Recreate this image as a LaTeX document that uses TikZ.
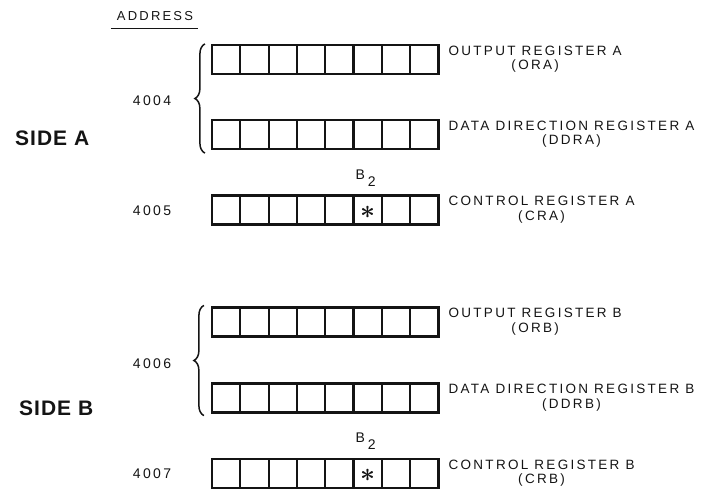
\documentclass[tikz,border=0pt]{standalone}
\usepackage{fontspec}
\setmainfont{Liberation Sans}
\newfontfamily\lettering[LetterSpace=17]{Liberation Sans}
\newfontfamily\heading[LetterSpace=5]{Liberation Sans}
\usetikzlibrary{positioning,decorations.pathreplacing}
\definecolor{ink}{RGB}{20,20,20}
\tikzset{
  every picture/.style={color=ink, line width=2.2pt},
  cell/.style={draw=ink, minimum width=28.3pt, minimum height=29pt, inner sep=0pt},
  reglbl/.style={font=\lettering\fontsize{13.5}{14.5}\selectfont, align=center, inner sep=0pt, anchor=north west},
  addr/.style={font=\lettering\fontsize{14}{14}\selectfont, inner sep=0pt},
  side/.style={font=\heading\fontsize{21}{21}\selectfont\bfseries, anchor=west, inner sep=0pt},
  grp/.style={decorate, decoration={brace, amplitude=10pt}, line width=1.5pt},
  bit/.style={font=\lettering\fontsize{14}{14}\selectfont, inner sep=0pt},
}

\begin{document}
\begin{tikzpicture}[x=1pt, y=-1pt]
  \useasboundingbox (0,0) rectangle (707,491);
  % heading of the address column
  \node[addr, font=\lettering\fontsize{13}{13}\selectfont] (head) at (155,16) {ADDRESS};
  \draw[line width=1.3pt] ([shift={(-5pt,-7pt)}]head.south west) -- ([shift={(4pt,-7pt)}]head.south east);
  % the six 8-bit registers, bit 7 on the left
  \foreach \r/\y in {ora/59.5, ddra/134.5, cra/210, orb/322, ddrb/398, crb/473.5} {
    \foreach \c in {1,...,8} { \node[cell] (\r\c) at ({212+(\c-0.5)*28.3},\y) {}; }
  }
  \node[reglbl] (oralbl) at ([shift={(8pt,-1pt)}]ora8.north east) {OUTPUT REGISTER A\\(ORA)};
  \node[reglbl] (ddralbl) at ([shift={(8pt,-1pt)}]ddra8.north east) {DATA DIRECTION REGISTER A\\(DDRA)};
  \node[reglbl] (cralbl) at ([shift={(8pt,-1pt)}]cra8.north east) {CONTROL REGISTER A\\(CRA)};
  \node[reglbl] (orblbl) at ([shift={(8pt,-1pt)}]orb8.north east) {OUTPUT REGISTER B\\(ORB)};
  \node[reglbl] (ddrblbl) at ([shift={(8pt,-1pt)}]ddrb8.north east) {DATA DIRECTION REGISTER B\\(DDRB)};
  \node[reglbl] (crblbl) at ([shift={(8pt,-1pt)}]crb8.north east) {CONTROL REGISTER B\\(CRB)};
  % bit 2 of both control registers
  \foreach \r in {cra,crb} {
    \node[scale=2.6, inner sep=0pt, font=\boldmath] (\r star) at ([yshift=-2pt]\r6) {$\ast$};
    \node[bit, above=7pt of \r6.north, xshift=-2pt] (\r bit) {B\kern3pt\raisebox{-7pt}{2}};
  }
  % output and data direction registers share one address
  \draw[grp] ([shift={(-6pt,-3pt)}]ddra1.south west) -- ([xshift=-6pt]ora1.north west);
  \draw[grp] ([shift={(-7pt,-2pt)}]ddrb1.south west) -- ([shift={(-7pt,1pt)}]orb1.north west);
  \node[addr] (a4004) at (152,101) {4004};
  \node[addr] (a4005) at (152,211) {4005};
  \node[addr] (a4006) at (152,364) {4006};
  \node[addr] (a4007) at (152,474) {4007};
  \node[side] (sidea) at (14,138) {SIDE A};
  \node[side] (sideb) at (18,408) {SIDE B};
\end{tikzpicture}
\end{document}
